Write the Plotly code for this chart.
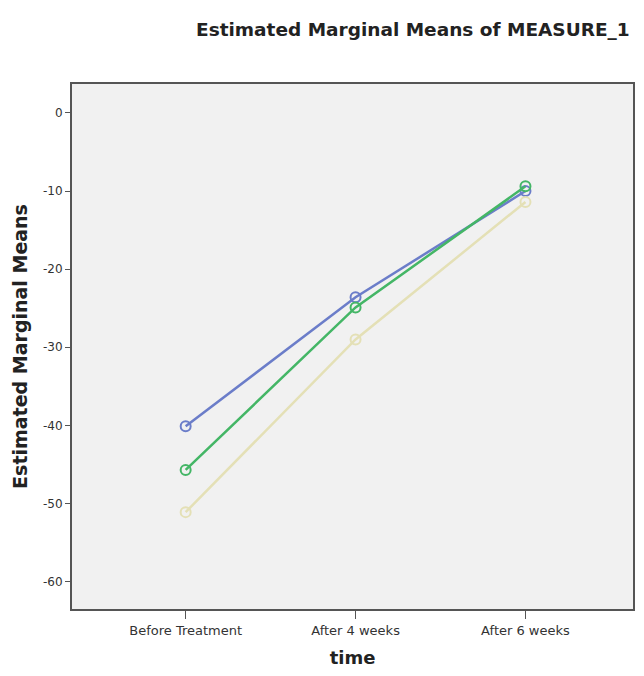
import plotly.graph_objects as go

categories = ["Before Treatment", "After 4 weeks", "After 6 weeks"]
group1 = [-40.1, -23.6, -10.0]
group2 = [-45.7, -24.9, -9.4]
group3 = [-51.1, -29.0, -11.4]
y_ticks = [0, -10, -20, -30, -40, -50, -60]

series = [
    ("1", group1, "#6b7dc9"),
    ("2", group2, "#44b666"),
    ("3", group3, "#e4e0b6"),
]

FONT = "DejaVu Sans, Liberation Sans, Arial, sans-serif"

fig = go.Figure()
xs = list(range(len(categories)))
for name, vals, col in series:
    fig.add_trace(go.Scatter(
        x=xs, y=vals, mode="lines+markers", name=name,
        line=dict(color=col, width=2.5),
        marker=dict(symbol="circle-open", size=10, color=col, line=dict(width=2, color=col)),
    ))

# page body has an 8px default margin; size the figure so it fits the window exactly
L, T, R, B = 64, 76, 627, 607
W, H = 628, 660
fig.update_layout(
    width=W, height=H,
    margin=dict(l=L, r=W - R, t=T, b=H - B),
    paper_bgcolor="white",
    plot_bgcolor="#f1f1f1",
    showlegend=False,
    font=dict(family=FONT, color="#333333"),
)
fig.update_xaxes(
    range=[-0.669, 2.633],
    tickmode="array", tickvals=xs, ticktext=categories,
    ticks="outside", ticklen=8, tickcolor="#555555", tickwidth=1,
    showgrid=False, zeroline=False,
    showline=True, linecolor="#555555", linewidth=2, mirror=True,
    tickfont=dict(size=13, color="#333333", family=FONT),
    title=dict(text="<b>time</b>", font=dict(size=18, color="#222222", family=FONT), standoff=17),
)
fig.update_yaxes(
    range=[-63.5, 3.7],
    tickmode="array", tickvals=y_ticks, ticktext=[str(v) for v in y_ticks],
    ticks="outside", ticklen=5, tickcolor="#555555", tickwidth=1,
    showgrid=False, zeroline=False,
    showline=True, linecolor="#555555", linewidth=2, mirror=True,
    tickfont=dict(size=12, color="#333333", family=FONT),
    title=dict(text="<b>Estimated Marginal Means</b>", font=dict(size=19, color="#222222", family=FONT), standoff=10),
)
fig.add_annotation(
    text="<b>Estimated Marginal Means of MEASURE_1</b>",
    xref="paper", yref="paper", x=(186 - L) / (R - L), y=1 + (T - 21) / (B - T),
    xanchor="left", yanchor="middle", showarrow=False,
    font=dict(size=18.5, color="#222222", family=FONT),
)

fig.write_html("out.html")
